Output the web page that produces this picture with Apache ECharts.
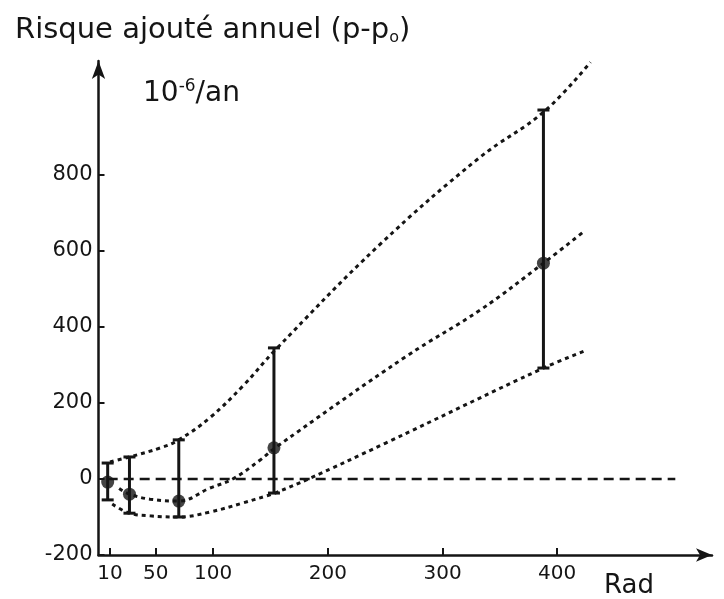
<!DOCTYPE html>
<html>
<head>
<meta charset="utf-8">
<script src="https://cdn.jsdelivr.net/npm/echarts@6/dist/echarts.min.js"></script>
<style>html,body{margin:0;padding:0;background:#fff}#c{width:724px;height:599px}</style>
</head>
<body>
<div id="c"></div>
<script>
// Measured points (dose in rad, added annual risk 10^-6/an)
const doseX = [8, 27, 70, 153, 388];
const riskMean = [-8, -40, -58, 82, 568];
const riskLow = [-55, -90, -100, -37, 292];
const riskHigh = [42, 58, 103, 345, 971];

// Dotted envelope / fit curves
const upperX = [10, 27, 54, 70, 97, 126, 154, 245, 332, 389, 429];
const upperY = [45, 58, 82, 103, 161, 245, 339, 616, 845, 968, 1097];
const middleX = [18, 27, 45, 70, 97, 117, 141, 154, 269, 333, 388, 424];
const middleY = [-25, -40, -53, -58, -24, 0, 50, 82, 324, 445, 568, 653];
const lowerX = [12, 27, 45, 70, 97, 126, 147, 154, 183, 250, 388, 424];
const lowerY = [-66, -90, -97, -100, -87, -63, -44, -37, 0, 94, 292, 337];
const zeroX = [8, 503];
const zeroY = [0, 0];

const xTicks = [10, 50, 100, 200, 300, 400];
const yTicks = [-200, 0, 200, 400, 600, 800];

const pairs = (xs, ys) => xs.map((x, i) => [x, ys[i]]);
const ink = '#151515';
const font = 'DejaVu Sans';

const chart = echarts.init(document.getElementById('c'), null, {renderer: 'canvas'});
chart.setOption({
  animation: false,
  backgroundColor: '#fff',
  title: [{
    text: 'Risque ajouté annuel (p-p{sub|o})',
    left: 10, top: 9,
    textStyle: {fontFamily: font, fontSize: 29, fontWeight: 'normal', color: ink,
      rich: {sub: {fontFamily: font, fontSize: 16, color: ink, padding: [16, 0, 0, 0]}}}
  }, {
    text: '10{sup|-6}/an',
    left: 138, top: 73,
    textStyle: {fontFamily: font, fontSize: 28, fontWeight: 'normal', color: ink,
      rich: {sup: {fontFamily: font, fontSize: 17, color: ink, padding: [0, 0, 15, 0]}}}
  }],
  graphic: [{
    type: 'text', left: 604, top: 573,
    style: {text: 'Rad', fontFamily: font, fontSize: 26, fill: ink}
  }],
  grid: {left: 98.5, right: 12, top: 61, bottom: 44, containLabel: false},
  xAxis: {
    type: 'value', min: 0, max: 535,
    axisLine: {onZero: false, lineStyle: {color: ink, width: 2.5}, symbol: ['none', 'arrow'], symbolSize: [10, 16]},
    axisTick: {show: true, inside: true, length: 7, lineStyle: {color: ink, width: 2}, customValues: xTicks},
    axisLabel: {color: ink, fontFamily: font, fontSize: 20, margin: 9, customValues: xTicks},
    splitLine: {show: false}
  },
  yAxis: {
    type: 'value', min: -200, max: 1100,
    axisLine: {lineStyle: {color: ink, width: 2.5}, symbol: ['none', 'arrow'], symbolSize: [10, 18]},
    axisTick: {show: true, inside: true, length: 6, lineStyle: {color: ink, width: 2}, customValues: yTicks},
    axisLabel: {color: ink, fontFamily: font, fontSize: 21, margin: 6, customValues: yTicks},
    splitLine: {show: false}
  },
  series: [
    {type: 'line', data: pairs(zeroX, zeroY), symbol: 'none', silent: true,
      lineStyle: {color: ink, width: 2.6, type: [10, 6]}},
    {type: 'line', data: pairs(upperX, upperY), symbol: 'none', smooth: 0.4,
      lineStyle: {color: ink, width: 3, type: [4, 4]}},
    {type: 'line', data: pairs(middleX, middleY), symbol: 'none', smooth: 0.4,
      lineStyle: {color: ink, width: 3, type: [4, 4]}},
    {type: 'line', data: pairs(lowerX, lowerY), symbol: 'none', smooth: 0.4,
      lineStyle: {color: ink, width: 3, type: [4, 4]}},
    {type: 'custom',
      data: doseX.map((x, i) => [x, riskLow[i], riskHigh[i]]),
      renderItem: function (params, api) {
        const lo = api.coord([api.value(0), api.value(1)]);
        const hi = api.coord([api.value(0), api.value(2)]);
        const hw = 6;
        const st = {stroke: ink, lineWidth: 3};
        return {type: 'group', children: [
          {type: 'line', shape: {x1: lo[0], y1: lo[1], x2: hi[0], y2: hi[1]}, style: st},
          {type: 'line', shape: {x1: lo[0] - hw, y1: lo[1], x2: lo[0] + hw, y2: lo[1]}, style: st},
          {type: 'line', shape: {x1: hi[0] - hw, y1: hi[1], x2: hi[0] + hw, y2: hi[1]}, style: st}
        ]};
      },
      z: 5},
    {type: 'scatter', data: pairs(doseX, riskMean), symbol: 'circle', symbolSize: 13,
      itemStyle: {color: ink}, z: 6}
  ]
});
</script>
</body>
</html>
